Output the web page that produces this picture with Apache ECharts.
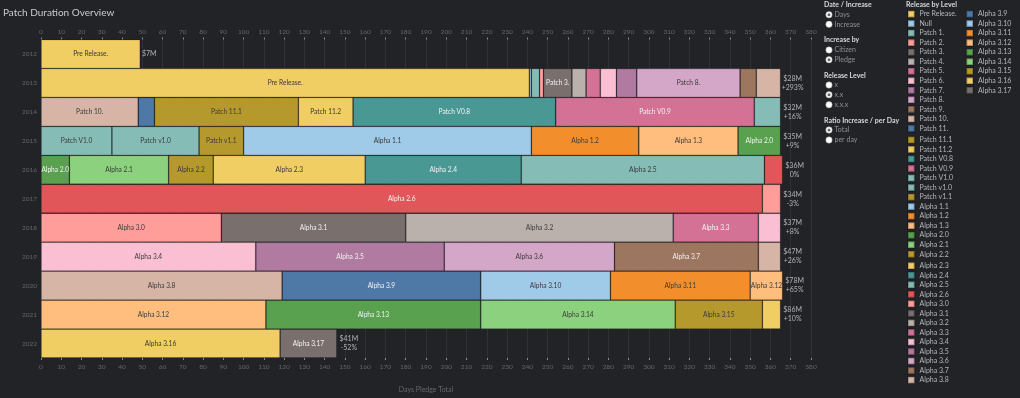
<!DOCTYPE html>
<html>
<head>
<meta charset="utf-8">
<script src="https://cdn.jsdelivr.net/npm/echarts@6/dist/echarts.min.js"></script>
<style>
  html, body { margin: 0; padding: 0; background: #212327; }
  #main { width: 1020px; height: 398px; }
</style>
</head>
<body>
<div id="main"></div>
<script>
const years = ['2012', '2013', '2014', '2015', '2016', '2017', '2018', '2019', '2020', '2021', '2022'];

const releases = [
  'Pre Release.', 'Null', 'Patch 1.', 'Patch 2.', 'Patch 3.', 'Patch 4.', 'Patch 5.', 'Patch 6.',
  'Patch 7.', 'Patch 8.', 'Patch 9.', 'Patch 10.', 'Patch 11.', 'Patch 11.1', 'Patch 11.2',
  'Patch V0.8', 'Patch V0.9', 'Patch V1.0', 'Patch v1.0', 'Patch v1.1',
  'Alpha 1.1', 'Alpha 1.2', 'Alpha 1.3', 'Alpha 2.0', 'Alpha 2.1', 'Alpha 2.2', 'Alpha 2.3',
  'Alpha 2.4', 'Alpha 2.5', 'Alpha 2.6', 'Alpha 3.0', 'Alpha 3.1', 'Alpha 3.2', 'Alpha 3.3',
  'Alpha 3.4', 'Alpha 3.5', 'Alpha 3.6', 'Alpha 3.7', 'Alpha 3.8',
  'Alpha 3.9', 'Alpha 3.10', 'Alpha 3.11', 'Alpha 3.12', 'Alpha 3.13', 'Alpha 3.14',
  'Alpha 3.15', 'Alpha 3.16', 'Alpha 3.17'
];

const releaseColors = [
  '#f1ce63', '#a0cbe8', '#86bcb6', '#ff9d9a', '#79706e', '#bab0ac', '#d37295', '#fabfd2',
  '#b07aa1', '#d4a6c8', '#9d7660', '#d7b5a6', '#4e79a7', '#b6992d', '#f1ce63',
  '#499894', '#d37295', '#86bcb6', '#86bcb6', '#b6992d',
  '#a0cbe8', '#f28e2b', '#ffbe7d', '#59a14f', '#8cd17d', '#b6992d', '#f1ce63',
  '#499894', '#86bcb6', '#e15759', '#ff9d9a', '#79706e', '#bab0ac', '#d37295',
  '#fabfd2', '#b07aa1', '#d4a6c8', '#9d7660', '#d7b5a6',
  '#4e79a7', '#a0cbe8', '#f28e2b', '#ffbe7d', '#59a14f', '#8cd17d',
  '#b6992d', '#f1ce63', '#79706e'
];

// days of each release inside a year, in release order
const y2012 = [['Pre Release.', 49]];
const y2013 = [['Pre Release.', 241], ['Null', 1], ['Patch 1.', 4], ['Patch 2.', 2], ['Patch 3.', 14],
  ['Patch 4.', 7], ['Patch 5.', 7], ['Patch 6.', 8], ['Patch 7.', 10], ['Patch 8.', 51],
  ['Patch 9.', 8], ['Patch 10.', 12]];
const y2014 = [['Patch 10.', 48], ['Patch 11.', 8], ['Patch 11.1', 71], ['Patch 11.2', 27],
  ['Patch V0.8', 100], ['Patch V0.9', 98], ['Patch V1.0', 13]];
const y2015 = [['Patch V1.0', 35], ['Patch v1.0', 43], ['Patch v1.1', 22], ['Alpha 1.1', 142],
  ['Alpha 1.2', 53], ['Alpha 1.3', 49], ['Alpha 2.0', 21]];
const y2016 = [['Alpha 2.0', 14], ['Alpha 2.1', 49], ['Alpha 2.2', 22], ['Alpha 2.3', 75],
  ['Alpha 2.4', 77], ['Alpha 2.5', 120], ['Alpha 2.6', 9]];
const y2017 = [['Alpha 2.6', 356], ['Alpha 3.0', 9]];
const y2018 = [['Alpha 3.0', 89], ['Alpha 3.1', 91], ['Alpha 3.2', 132], ['Alpha 3.3', 42], ['Alpha 3.4', 11]];
const y2019 = [['Alpha 3.4', 106], ['Alpha 3.5', 93], ['Alpha 3.6', 84], ['Alpha 3.7', 71], ['Alpha 3.8', 11]];
const y2020 = [['Alpha 3.8', 119], ['Alpha 3.9', 98], ['Alpha 3.10', 64], ['Alpha 3.11', 69], ['Alpha 3.12', 16]];
const y2021 = [['Alpha 3.12', 111], ['Alpha 3.13', 106], ['Alpha 3.14', 96], ['Alpha 3.15', 43], ['Alpha 3.16', 9]];
const y2022 = [['Alpha 3.16', 118], ['Alpha 3.17', 28]];

const pledgeTotals = ['$7M', '$28M', '$32M', '$35M', '$36M', '$34M', '$37M', '$47M', '$78M', '$86M', '$41M'];
const pledgeChanges = ['', '+293%', '+16%', '+9%', '0%', '-3%', '+8%', '+26%', '+65%', '+10%', '-52%'];

const yearSegments = [y2012, y2013, y2014, y2015, y2016, y2017, y2018, y2019, y2020, y2021, y2022];

const font = 'Lato';
const darkFills = ['#4e79a7', '#499894', '#59a14f', '#e15759', '#79706e', '#d37295', '#b07aa1', '#9d7660'];

const chart = echarts.init(document.getElementById('main'));

const barSeries = releases.map(function (name, idx) {
  const color = releaseColors[idx];
  return {
    name: name,
    type: 'bar',
    stack: 'days',
    barCategoryGap: '0%',
    itemStyle: { color: color, borderColor: 'rgba(0,0,0,0.22)', borderWidth: 0.8 },
    label: {
      show: true,
      position: 'inside',
      fontSize: 6.6,
      fontFamily: font,
      overflow: 'none',
      color: darkFills.indexOf(color) >= 0 ? '#f2f2f2' : '#3a3a3a',
      formatter: function (p) { return p.value >= 13.5 ? p.seriesName : ''; }
    },
    data: yearSegments.map(function (segs) {
      const hit = segs.find(function (s) { return s[0] === name; });
      return hit ? hit[1] : null;
    })
  };
});

const totalSeries = {
  name: 'totals',
  type: 'scatter',
  symbolSize: 0,
  silent: true,
  label: {
    show: true,
    position: 'right',
    distance: 2,
    fontFamily: font,
    formatter: function (p) {
      const i = p.dataIndex;
      if (!pledgeChanges[i]) return '{b|' + pledgeTotals[i] + '}';
      return '{a|' + pledgeTotals[i] + '}\n{a|' + pledgeChanges[i] + '}';
    },
    rich: {
      a: { width: 20, align: 'center', color: '#d2d4d6', fontSize: 7, lineHeight: 9, fontFamily: font },
      b: { width: 14, align: 'center', color: '#d2d4d6', fontSize: 7, lineHeight: 9, fontFamily: font }
    }
  },
  data: yearSegments.map(function (segs, i) {
    return [segs.reduce(function (s, d) { return s + d[1]; }, 0), years[i]];
  })
};

const axisLabelStyle = { color: '#63666b', fontSize: 6.5, fontFamily: font };

// filter panel (static controls on the right)
const panel = [
  ['h', 'Date / Increase', 4.7], ['o', 'Days', 14.7, true], ['o', 'Increase', 24.3, false],
  ['h', 'Increase by', 40], ['o', 'Citizen', 50, false], ['o', 'Pledge', 59.7, true],
  ['h', 'Release Level', 75.3], ['o', 'x', 85, false], ['o', 'x.x', 94.7, true], ['o', 'x.x.x', 104.7, false],
  ['h', 'Ratio Increase / per Day', 120.3], ['o', 'Total', 130, true], ['o', 'per day', 140, false]
];
const graphics = [];
panel.forEach(function (p) {
  if (p[0] === 'h') {
    graphics.push({ type: 'text', x: 824, y: p[2],
      style: { text: p[1], fill: '#d6d8da', fontSize: 7, fontFamily: font, fontWeight: 'bold', verticalAlign: 'middle' } });
  } else {
    graphics.push({ type: 'circle', shape: { cx: 829, cy: p[2], r: 3.2 },
      style: { fill: '#ffffff', stroke: '#9a9a9a', lineWidth: 0.5 } });
    if (p[3]) {
      graphics.push({ type: 'circle', shape: { cx: 829, cy: p[2], r: 1.5 }, style: { fill: '#6a6a6a' } });
    }
    graphics.push({ type: 'text', x: 834.5, y: p[2],
      style: { text: p[1], fill: '#8e9195', fontSize: 7, fontFamily: font, verticalAlign: 'middle' } });
  }
});
graphics.push({ type: 'text', x: 906, y: 4.7,
  style: { text: 'Release by Level', fill: '#d6d8da', fontSize: 7, fontFamily: font, fontWeight: 'bold', verticalAlign: 'middle' } });

// legend columns are split into short blocks so none of them wraps
const legendStep = 9.68;
function legendBlock(left, from, to, row) {
  return {
    orient: 'vertical',
    left: left,
    top: 9.8 + row * legendStep,
    padding: 0,
    itemWidth: 6.5,
    itemHeight: 6.5,
    itemGap: 1.03,
    icon: 'rect',
    selectedMode: false,
    textStyle: { color: '#b4b7bb', fontSize: 7, fontFamily: font },
    data: releases.slice(from, to)
  };
}

const option = {
  backgroundColor: '#212327',
  animation: false,
  title: {
    text: 'Patch Duration Overview',
    left: -2,
    top: 3,
    textStyle: { color: '#c9cbce', fontSize: 10, fontWeight: 'normal', fontFamily: font }
  },
  legend: [
    legendBlock(907, 0, 13, 0),
    legendBlock(907, 13, 26, 13),
    legendBlock(907, 26, 39, 26),
    legendBlock(965.5, 39, 48, 0)
  ],
  graphic: graphics,
  grid: { left: 41, right: 209, top: 39.5, bottom: 38 },
  xAxis: [
    {
      type: 'value', position: 'top', min: 0, max: 380, interval: 10,
      axisLine: { show: false },
      axisTick: { show: true, length: 2, lineStyle: { color: '#8a8d91' } },
      axisLabel: Object.assign({ margin: 4 }, axisLabelStyle),
      splitLine: { show: true, lineStyle: { color: '#2e3135', width: 1 } }
    },
    {
      type: 'value', position: 'bottom', min: 0, max: 380, interval: 10,
      name: 'Days Pledge Total', nameLocation: 'middle', nameGap: 28,
      nameTextStyle: { color: '#63666b', fontSize: 7, fontFamily: font },
      axisLine: { show: false },
      axisTick: { show: true, length: 2, lineStyle: { color: '#8a8d91' } },
      axisLabel: Object.assign({ margin: 5 }, axisLabelStyle),
      splitLine: { show: false }
    }
  ],
  yAxis: {
    type: 'category',
    inverse: true,
    data: years,
    axisLine: { show: false },
    axisTick: { show: false },
    axisLabel: Object.assign({ margin: 4 }, axisLabelStyle)
  },
  series: barSeries.concat([totalSeries])
};

chart.setOption(option);
</script>
</body>
</html>
